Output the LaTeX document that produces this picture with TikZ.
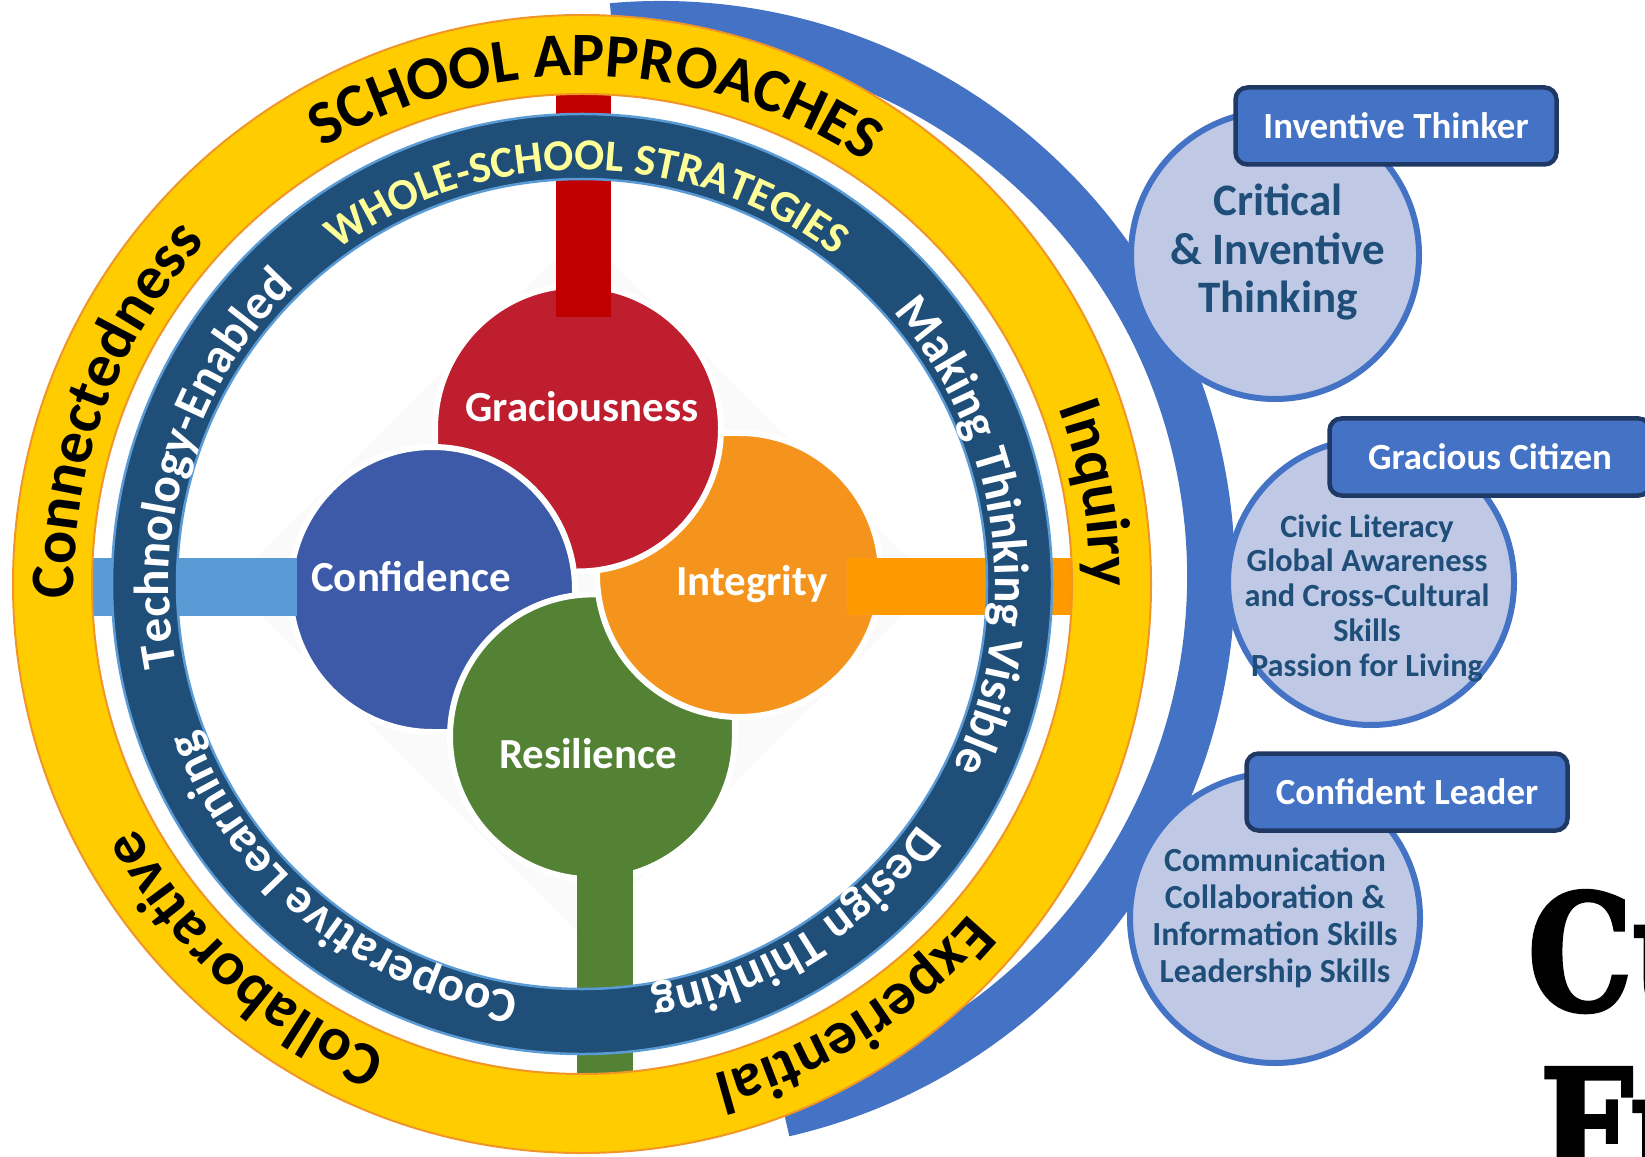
\documentclass[tikz,border=0pt]{standalone}
\usepackage{fontspec}
\setmainfont{Carlito}
\newfontfamily\posterfont[BoldFeatures={FakeBold=2.5}]{DejaVu Serif}
\usetikzlibrary{decorations.text,calc}

\definecolor{ringgold}{RGB}{255,204,0}
\definecolor{ringedge}{RGB}{240,150,40}
\definecolor{ringnavy}{RGB}{31,78,121}
\definecolor{navyedge}{RGB}{91,155,213}
\definecolor{arcblue}{RGB}{68,114,196}
\definecolor{boxedge}{RGB}{32,56,100}
\definecolor{skillfill}{RGB}{191,201,229}
\definecolor{skillink}{RGB}{31,78,121}
\definecolor{paleyellow}{RGB}{255,255,153}
\definecolor{petalred}{RGB}{190,30,45}
\definecolor{petalblue}{RGB}{60,90,168}
\definecolor{petalorange}{RGB}{244,148,28}
\definecolor{petalgreen}{RGB}{84,130,53}
\definecolor{barred}{RGB}{192,0,0}
\definecolor{barblue}{RGB}{91,155,213}
\definecolor{barorange}{RGB}{255,153,0}

\begin{document}
\begin{tikzpicture}[x=0.1mm,y=0.1mm,
        petal/.style={draw=white,line width=0.6mm},
        petal label/.style={text=white,font=\bfseries\fontsize{12.2}{12.2}\selectfont,inner sep=0pt,anchor=base},
        outer words/.style={decorate,decoration={text along path,text align=center,
            text={|\bfseries\fontsize{17.6}{17.6}\selectfont|#1}}},
        inner words/.style={decorate,decoration={text along path,text align=center,
            text={|\bfseries\fontsize{14}{14}\selectfont\color{white}|#1}}},
        skill circle/.style={circle,draw=arcblue,line width=0.6mm,fill=skillfill,inner sep=0pt},
        skill text/.style={text=skillink,align=center,inner sep=0pt},
        role box/.style={rectangle,rounded corners=1.2mm,draw=boxedge,line width=0.45mm,fill=arcblue,
            text=white,font=\bfseries\fontsize{10.5}{10.5}\selectfont,minimum width=3.21cm,minimum height=0.77cm},
        poster word/.style={anchor=base west,inner sep=0pt,font=\posterfont\bfseries\fontsize{45.7}{46}\selectfont}]
        \useasboundingbox (0,0) rectangle (1645,1156);
        \coordinate (ctr) at (582,572);
        \coordinate (arcc) at (660,580);

        \fill [gray!4] (582,924) -- (934,572) -- (582,220) -- (230,572) -- cycle;
        \fill [arcblue] (arcc) ++(95:575) arc[start angle=95,end angle=-77,radius=575]
            -- ($(arcc)+(-77:527)$) arc[start angle=-77,end angle=95,radius=527] -- cycle;

        \filldraw [petal,fill=petalorange] (597,581) -- (597,723) -- (739,723) arc[start angle=90,end angle=-180,radius=142] -- cycle;
        \filldraw [petal,fill=petalred] (435,727.5) -- (435,584.5) -- (578,584.5) arc[start angle=-90,end angle=180,radius=143] -- cycle;
        \filldraw [petal,fill=petalblue] (575,566.5) -- (575,424) -- (432.5,424) arc[start angle=270,end angle=0,radius=142.5] -- cycle;
        \filldraw [petal,fill=petalgreen] (592.4,561.6) -- (734.8,561.6) -- (734.8,419.2) arc[start angle=0,end angle=-270,radius=142.4] -- cycle;
        \begin{scope}
            \clip (560,0) rectangle (900,578);
            \filldraw [petal,fill=petalorange] (597,581) -- (597,723) -- (739,723) arc[start angle=90,end angle=-180,radius=142] -- cycle;
        \end{scope}
        \node [petal label] (gracious) at (582,734) {Graciousness};
        \node [petal label] (confid) at (411,565) {Confidence};
        \node [petal label] (integ) at (752,561) {Integrity};
        \node [petal label] (resil) at (588,388) {Resilience};

        \fill [barred] (556,839) rectangle (611,1062);
        \fill [barblue] (92,540) rectangle (297,598);
        \fill [barorange] (847,541) rectangle (1073,598);
        \fill [petalgreen] (577,81) rectangle (633,299);

        \fill [ringnavy,even odd rule] (ctr) circle[radius=470] (ctr) circle[radius=405];
        \draw [navyedge,line width=0.25mm] (ctr) circle[radius=470] (ctr) circle[radius=405];
        \path [decorate,decoration={text along path,text align=center,
            text={|\bfseries\fontsize{12.6}{12.6}\selectfont\color{paleyellow}|WHOLE-SCHOOL STRATEGIES}}]
            (ctr) ++(134.3:414) arc[start angle=134.3,end angle=44.3,radius=414];
        \path [inner words={Technology-Enabled}] (ctr) ++(207.7:413) arc[start angle=207.7,end angle=117.7,radius=413];
        \path [inner words={Making Thinking Visible}] (ctr) ++(52.5:413) arc[start angle=52.5,end angle=-37.5,radius=413];
        \path [inner words={Design Thinking}] (ctr) ++(-13:413) arc[start angle=-13,end angle=-103,radius=413];
        \path [inner words={Cooperative Learning}] (ctr) ++(276:413) arc[start angle=276,end angle=186,radius=413];

        \fill [ringgold,even odd rule] (ctr) circle[radius=569] (ctr) circle[radius=490];
        \draw [ringedge,line width=0.2mm] (ctr) circle[radius=569] (ctr) circle[radius=490];
        \path [outer words={SCHOOL APPROACHES}] (ctr) ++(128.4:508) arc[start angle=128.4,end angle=48.4,radius=508];
        \path [outer words={Connectedness}] (ctr) ++(199.7:508) arc[start angle=199.7,end angle=119.7,radius=508];
        \path [outer words={Inquiry}] (ctr) ++(50:508) arc[start angle=50,end angle=-30,radius=508];
        \path [outer words={Experiential}] (ctr) ++(-17.7:508) arc[start angle=-17.7,end angle=-97.7,radius=508];
        \path [outer words={Collaborative}] (ctr) ++(268:508) arc[start angle=268,end angle=188,radius=508];

        \node [skill circle,minimum size=2.88cm] (thinking) at (1275,901) {};
        \node [skill text,font=\bfseries\fontsize{12.8}{13.9}\selectfont] (thinkingtxt) at (1278,904) {Critical\\\& Inventive\\Thinking};
        \node [skill circle,minimum size=2.86cm] (citizenship) at (1371,574) {};
        \node [skill text,font=\bfseries\fontsize{9.2}{9.9}\selectfont] (citizenshiptxt) at (1367,558) {Civic Literacy\\Global Awareness\\and Cross-Cultural\\Skills\\Passion for Living};
        \node [skill circle,minimum size=2.9cm] (leadership) at (1275,238) {};
        \node [skill text,font=\bfseries\fontsize{9.6}{10.5}\selectfont] (leadershiptxt) at (1275,238) {Communication\\Collaboration \&\\Information Skills\\Leadership Skills};
        \node [role box] (thinker) at (1396,1030) {Inventive Thinker};
        \node [role box] (citizen) at (1490,699) {Gracious Citizen};
        \node [role box] (leader) at (1407,364) {Confident Leader};

        \node [poster word] (cu) at (1527,146) {\scalebox{0.82}[1]{Cu}};
        \node [poster word] (fu) at (1539,-29) {\scalebox{0.82}[1]{Fu}};
\end{tikzpicture}
\end{document}
